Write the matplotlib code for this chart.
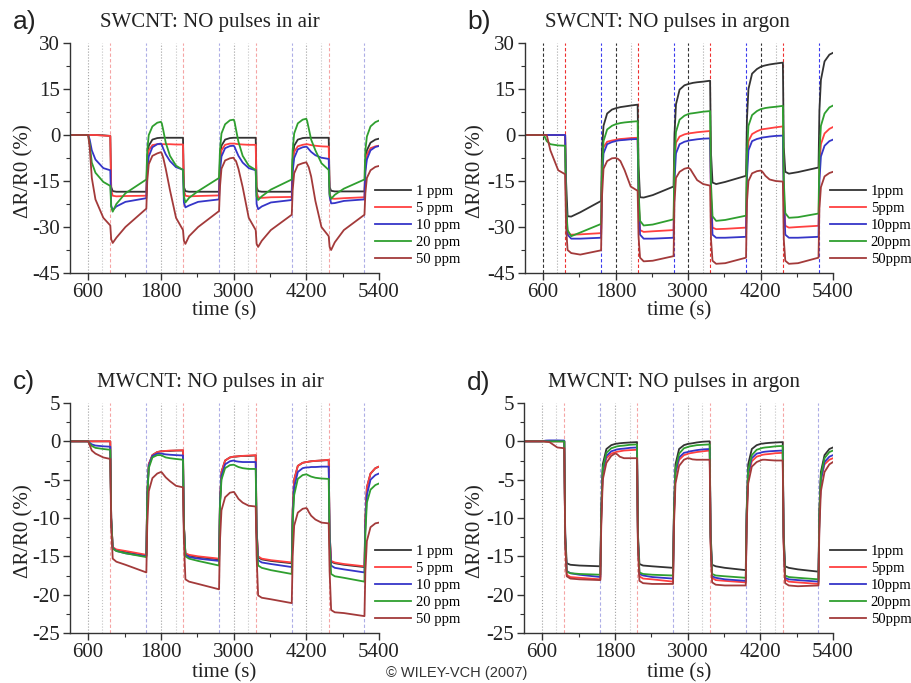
import numpy as np
import matplotlib
matplotlib.use('Agg')
import matplotlib.pyplot as plt
from matplotlib.ticker import MultipleLocator

plt.rcParams['font.family'] = 'Liberation Serif'
plt.rcParams['axes.unicode_minus'] = False

# time knots (s), shared by every curve
T = [300, 600, 625, 660, 720, 850, 965,
     980, 1005, 1065, 1215, 1560,
     1575, 1600, 1660, 1740, 1800, 1815, 1840, 1880, 1950, 2050, 2165,
     2180, 2205, 2265, 2415, 2760,
     2775, 2800, 2860, 2940, 3000, 3015, 3040, 3080, 3150, 3250, 3365,
     3380, 3405, 3465, 3615, 3960,
     3975, 4000, 4060, 4140, 4200, 4215, 4240, 4280, 4350, 4450, 4570,
     4585, 4610, 4670, 4820, 5160,
     5175, 5200, 5260, 5340, 5400]

# NO on / off and other marker times
red_on = [965, 2165, 3365, 4570]
blue_off = [1560, 2760, 3960, 5160]
grey_a = [600, 1800, 3000, 4200]
grey_b = [830, 2050, 3245, 4450]

# ---- a) SWCNT in air
a_1ppm = [0, 0, 0, 0, 0, -0.1, -0.3,
          -17, -18.3, -18.5, -18.5, -18.5,
          -8, -3.5, -1.5, -1.0, -0.9, -0.9, -0.9, -0.9, -0.9, -0.9, -0.9,
          -17, -18.3, -18.5, -18.5, -18.5,
          -8, -3.5, -1.5, -1.0, -0.9, -0.9, -0.9, -0.9, -0.9, -0.9, -0.9,
          -17, -18.3, -18.5, -18.5, -18.5,
          -8, -3.5, -1.5, -1.0, -0.9, -0.9, -0.9, -0.9, -0.9, -0.9, -0.9,
          -17, -18.2, -18.4, -18.4, -18.4,
          -9, -5, -2.5, -1.5, -1.2]
a_5ppm = [0, 0, 0, 0, 0, -0.2, -0.3,
          -18, -19.8, -20, -19.9, -19.8,
          -10, -5, -3.3, -3.0, -3.0, -3.0, -3.0, -3.0, -3.0, -3.1, -3.1,
          -18, -19.8, -20, -19.9, -19.7,
          -10, -5, -3.2, -2.8, -2.8, -2.8, -2.9, -3.0, -3.1, -3.2, -3.2,
          -18.5, -20.3, -20.5, -20.3, -20.2,
          -10, -5.5, -3.7, -3.2, -3.0, -3.0, -3.1, -3.3, -3.5, -3.7, -3.8,
          -19, -20.7, -20.8, -20.6, -20.3,
          -11, -6.5, -4.3, -3.7, -3.5]
a_10ppm = [0, 0, -1.5, -5, -8, -10.8, -11.5,
           -23, -24.5, -23.3, -21.8, -20.6,
           -12, -7, -4, -3, -2.8, -3.2, -4.5, -6.3, -8.5, -10.5, -11.3,
           -22, -23.6, -23, -21.8, -21,
           -12, -7, -4.3, -3.6, -3.5, -3.8, -5, -6.8, -9, -10.8, -11.5,
           -22.5, -24.2, -23.3, -22, -21.2,
           -12, -7.5, -4.7, -4, -3.8, -4.0, -4.6, -5.5, -6.6, -7.4, -7.8,
           -20, -22.3, -22.2, -21.5, -21,
           -12, -8, -5, -3.9, -3.6]
a_20ppm = [0, 0, -3, -9, -12.3, -15.3, -16.6,
           -23.5, -25, -22.5, -19, -14.5,
           -5, 0, 2.8, 4.0, 4.3, 3.8, 1.5, -2.5, -6.8, -10, -11.4,
           -20, -22, -20.5, -18.3, -14,
           -5, 0.5, 3.5, 4.8, 5.0, 4.4, 1.8, -2.2, -6.8, -10, -11.4,
           -20, -21.2, -20, -17.8, -14.5,
           -5, 0.5, 3.8, 5.0, 5.3, 4.5, 2.2, -1.5, -5, -9.2, -11.4,
           -19.5, -20.8, -19.5, -17.5, -14.5,
           -5, -0.5, 2.8, 4.2, 4.7]
a_50ppm = [0, 0, -4, -14, -21, -27, -29.5,
           -34, -35.2, -33.5, -30, -24,
           -15, -9.5, -6.8, -6, -5.6, -6, -7.5, -11, -18, -27, -31,
           -34.5, -35.5, -33, -30, -24.8,
           -17, -11, -8.3, -7.6, -7.4, -8, -8.5, -11, -17, -27, -31,
           -35.5, -36.5, -34.5, -31, -26,
           -18, -12.5, -9.8, -9.2, -8.9, -9.5, -10.5, -13.5, -21.5, -30, -33,
           -36.5, -37.5, -35, -31, -26,
           -19, -14, -11.5, -10.4, -10.1]

# ---- b) SWCNT in argon
b_1ppm = [0, 0, 0, 0, 0, 0, 0,
          -15, -26.5, -26.6, -25.2, -21.5,
          -5, 3, 7, 8.3, 8.7, 8.8, 8.9, 9.1, 9.3, 9.6, 9.9,
          -10, -20.3, -20.4, -19.6, -16.8,
          0, 10, 14.8, 16.2, 16.6, 16.7, 16.8, 17.0, 17.2, 17.4, 17.7,
          -6, -15.5, -16, -15.3, -13.3,
          5, 15, 20, 21.5, 22.2, 22.3, 22.5, 22.7, 23.0, 23.3, 23.6,
          -4, -12, -12.6, -12.1, -10.6,
          8, 18, 24, 26.2, 26.8]
b_5ppm = [0, 0, 0, 0, 0, 0, 0,
          -25, -32.3, -32.5, -32.4, -32,
          -12, -4, -2.2, -1.8, -1.6, -1.5, -1.4, -1.3, -1.2, -1.0, -0.9,
          -20, -31, -31.6, -31.4, -31,
          -10, -2.5, -0.5, 0.2, 0.5, 0.5, 0.6, 0.7, 0.9, 1.1, 1.3,
          -20, -30.2, -30.7, -30.6, -30.2,
          -10, -2, 0.3, 1.2, 1.7, 1.8, 1.9, 2.0, 2.2, 2.5, 2.8,
          -19, -29.6, -30.2, -30, -29.6,
          -10, -3, 0.5, 2.0, 2.6]
b_10ppm = [0, 0, 0, 0, 0, 0, 0,
           -22, -32.5, -33.8, -33.8, -33.5,
           -15, -6, -3, -2.3, -2.0, -1.9, -1.8, -1.7, -1.6, -1.4, -1.3,
           -20, -32.5, -33.8, -33.8, -33.5,
           -15, -6, -3, -2.2, -1.9, -1.8, -1.7, -1.6, -1.4, -1.2, -1.1,
           -20, -32.5, -33.5, -33.5, -33.2,
           -14, -5, -2, -1.3, -1.0, -0.9, -0.8, -0.7, -0.5, -0.3, -0.2,
           -20, -32.5, -33.5, -33.5, -33.2,
           -15, -7, -3.5, -2, -1.5]
b_20ppm = [0, 0, -0.5, -2, -3, -3.4, -3.5,
           -22, -31, -33, -31.8, -29,
           -12, -2, 1.8, 3.0, 3.5, 3.6, 3.7, 3.9, 4.1, 4.3, 4.5,
           -18, -28, -29.5, -29.2, -27.5,
           -8, 1, 5, 6.3, 6.8, 6.9, 7.0, 7.1, 7.3, 7.6, 7.8,
           -16, -26.5, -28, -27.7, -26.3,
           -6, 3, 6.5, 7.8, 8.4, 8.5, 8.6, 8.8, 9.0, 9.2, 9.5,
           -15, -25.5, -27, -26.8, -25.6,
           -6, 3, 7, 9, 9.6]
b_50ppm = [0, 0, 0, 0, -5, -11.5, -12.8,
           -30, -37.5, -38.5, -39, -37.6,
           -20, -11, -8.5, -7.6, -7.5, -7.6, -7.8, -8.5, -11.5, -16.8, -18.2,
           -33, -40, -41.2, -41, -39.5,
           -22, -14, -12, -11, -10.7, -10.8, -11.2, -12.5, -14.7, -16, -16.5,
           -34, -41, -42, -41.8, -40,
           -22, -15, -12.5, -11.8, -11.6, -11.7, -12.2, -13.3, -14.5, -15, -15.2,
           -34, -41, -42, -41.8, -40,
           -24, -17, -13.5, -12.4, -12]

# ---- c) MWCNT in air
c_1ppm = [0, 0, 0, 0, 0, 0, 0,
          -10, -13.9, -14.2, -14.4, -14.9,
          -7, -3, -1.8, -1.4, -1.3, -1.3, -1.3, -1.25, -1.25, -1.2, -1.2,
          -11, -14.7, -14.9, -15.1, -15.4,
          -8, -4, -2.5, -2.1, -2.0, -2.0, -2.0, -1.95, -1.9, -1.9, -1.85,
          -11.5, -15.1, -15.4, -15.6, -15.9,
          -9, -5, -3.2, -2.8, -2.7, -2.7, -2.65, -2.6, -2.55, -2.5, -2.45,
          -12, -15.7, -15.9, -16.1, -16.4,
          -10, -6, -4.2, -3.5, -3.3]
c_5ppm = [0, 0, 0, 0, 0, 0, 0,
          -10, -13.8, -14.1, -14.3, -14.8,
          -7, -3, -1.8, -1.4, -1.3, -1.3, -1.25, -1.25, -1.2, -1.2, -1.15,
          -11, -14.6, -14.8, -15, -15.3,
          -8, -4, -2.5, -2.1, -2.0, -2.0, -1.95, -1.95, -1.9, -1.85, -1.8,
          -11.5, -15, -15.3, -15.5, -15.8,
          -9, -5, -3.2, -2.8, -2.7, -2.7, -2.65, -2.6, -2.55, -2.5, -2.4,
          -12, -15.6, -15.8, -16, -16.3,
          -10, -6, -4.2, -3.5, -3.3]
c_10ppm = [0, 0, -0.2, -0.4, -0.55, -0.65, -0.7,
           -10, -13.9, -14.3, -14.6, -15,
           -7, -3.2, -1.9, -1.6, -1.6, -1.6, -1.65, -1.7, -1.75, -1.8, -1.85,
           -11, -14.8, -15.1, -15.3, -15.6,
           -8, -4.5, -3, -2.6, -2.5, -2.55, -2.6, -2.65, -2.7, -2.7, -2.7,
           -12, -15.5, -15.8, -16, -16.4,
           -10, -6, -4, -3.5, -3.4, -3.4, -3.4, -3.35, -3.35, -3.3, -3.3,
           -12.5, -16.2, -16.5, -16.7, -17.1,
           -11, -7, -5, -4.4, -4.2]
c_20ppm = [0, 0, -0.3, -0.6, -0.85, -1.0, -1.1,
           -10, -14, -14.3, -14.6, -15.1,
           -7.5, -3.5, -2.1, -1.8, -1.8, -1.85, -1.95, -2.1, -2.2, -2.3, -2.4,
           -11, -15, -15.3, -15.6, -16.2,
           -8.5, -5, -3.5, -3.1, -3.05, -3.1, -3.2, -3.35, -3.5, -3.6, -3.6,
           -12.5, -16.2, -16.5, -16.8, -17.3,
           -10.5, -7, -4.9, -4.4, -4.3, -4.35, -4.45, -4.6, -4.75, -4.85, -4.9,
           -13.5, -17.3, -17.6, -17.8, -18.3,
           -12, -8, -6.3, -5.7, -5.5]
c_50ppm = [0, 0, -0.5, -1.2, -1.6, -2.1, -2.3,
           -11, -15.3, -15.7, -16.1, -17.1,
           -11, -6.5, -4.8, -4.2, -4.0, -4.05, -4.3, -4.7, -5.2, -5.8, -6.0,
           -13, -18, -18.3, -18.6, -19.3,
           -13, -9, -7.3, -6.7, -6.6, -6.7, -7.0, -7.5, -8.0, -8.4, -8.5,
           -15, -20.1, -20.4, -20.6, -21.1,
           -15, -11, -9.3, -8.8, -8.7, -8.8, -9.2, -9.7, -10.2, -10.6, -10.7,
           -17, -22, -22.3, -22.4, -22.8,
           -17, -13, -11.2, -10.7, -10.6]

# ---- d) MWCNT in argon
d_1ppm = [0, 0, 0, 0, 0, 0, 0,
          -12, -15.9, -16.1, -16.2, -16.3,
          -9, -3, -1.0, -0.5, -0.35, -0.3, -0.3, -0.25, -0.2, -0.15, -0.1,
          -12, -16, -16.2, -16.3, -16.5,
          -9, -3, -1.0, -0.5, -0.35, -0.3, -0.3, -0.25, -0.15, -0.05, 0,
          -12, -16.1, -16.3, -16.5, -16.8,
          -9, -3, -1.0, -0.5, -0.35, -0.3, -0.3, -0.25, -0.2, -0.15, -0.1,
          -12, -16.3, -16.5, -16.7, -17,
          -9, -4, -1.8, -1.0, -0.8]
d_5ppm = [0, 0, 0, 0, 0, 0, 0,
          -13, -17.4, -17.7, -17.8, -18,
          -10, -4, -2.2, -1.6, -1.45, -1.4, -1.35, -1.3, -1.2, -1.15, -1.1,
          -13, -17.6, -17.9, -18, -18.3,
          -10, -4.2, -2.4, -1.8, -1.65, -1.6, -1.55, -1.5, -1.4, -1.3, -1.2,
          -13, -17.8, -18.1, -18.2, -18.4,
          -10, -4.5, -2.6, -2.0, -1.85, -1.8, -1.75, -1.7, -1.65, -1.55, -1.5,
          -13, -18, -18.3, -18.4, -18.6,
          -10, -5, -3, -2.4, -2.2]
d_10ppm = [0, 0, 0.05, 0.1, 0.12, 0.12, 0.1,
           -12.5, -16.9, -17.2, -17.4, -17.7,
           -9.5, -3.8, -1.9, -1.3, -1.15, -1.1, -1.05, -1.0, -0.95, -0.85, -0.8,
           -12.5, -17.3, -17.5, -17.7, -17.9,
           -9.5, -4, -2.1, -1.5, -1.4, -1.35, -1.3, -1.25, -1.15, -1.05, -1.0,
           -12.5, -17.6, -17.8, -18, -18.2,
           -9.5, -4.2, -2.2, -1.6, -1.5, -1.45, -1.4, -1.35, -1.3, -1.25, -1.2,
           -12.5, -17.8, -18, -18.1, -18.3,
           -10, -5, -2.7, -2.0, -1.8]
d_20ppm = [0, 0, 0, 0, 0, 0, 0,
           -12.5, -17, -17.2, -17.3, -17.4,
           -9.3, -3.5, -1.5, -0.9, -0.75, -0.7, -0.65, -0.6, -0.55, -0.45, -0.4,
           -12.5, -17.1, -17.3, -17.4, -17.5,
           -9.3, -3.6, -1.6, -0.9, -0.75, -0.7, -0.65, -0.6, -0.5, -0.45, -0.4,
           -12.5, -17.3, -17.5, -17.6, -17.8,
           -9.3, -3.8, -1.8, -1.1, -0.95, -0.9, -0.85, -0.8, -0.75, -0.65, -0.6,
           -12.5, -17.5, -17.7, -17.8, -18,
           -9.5, -4.5, -2.2, -1.4, -1.2]
d_50ppm = [0, 0, 0, -0.05, -0.1, -0.8, -0.9,
           -13, -17.6, -17.9, -18.0, -18.1,
           -11, -5, -2.8, -1.9, -1.6, -1.6, -1.7, -2.0, -2.2, -2.2, -2.2,
           -13.5, -18.2, -18.5, -18.6, -18.6,
           -11, -5.5, -3.2, -2.4, -2.2, -2.2, -2.25, -2.35, -2.4, -2.4, -2.4,
           -13.5, -18.4, -18.7, -18.8, -18.8,
           -11, -5.5, -3.3, -2.7, -2.5, -2.45, -2.4, -2.4, -2.45, -2.5, -2.5,
           -13.5, -18.5, -18.8, -18.9, -18.8,
           -11.5, -6.5, -4, -3.0, -2.7]

colors = ['#333333', '#ff4040', '#3535c8', '#2f9f2f', '#a33a3a']
labels_sp = ['1 ppm', '5 ppm', '10 ppm', '20 ppm', '50 ppm']
labels_nosp = ['1ppm', '5ppm', '10ppm', '20ppm', '50ppm']

W, H = 911, 683
fig = plt.figure(figsize=(W / 100, H / 100), dpi=100)


def add_ax(l, t, r, b):
    return fig.add_axes([l / W, 1 - b / H, (r - l) / W, (b - t) / H])


panels = [
    dict(box=(70, 43, 379, 273), series=[a_1ppm, a_5ppm, a_10ppm, a_20ppm, a_50ppm],
         labels=labels_sp, ylim=(-45, 30), step=15, strong=False,
         letter='a)', title='SWCNT: NO pulses in air', tx=210, ty=22, lx=13, leg=(375, 185),
         ylab=(24, 171), xlab=(224, 311)),
    dict(box=(525, 43, 833, 273), series=[b_1ppm, b_5ppm, b_10ppm, b_20ppm, b_50ppm],
         labels=labels_nosp, ylim=(-45, 30), step=15, strong=True,
         letter='b)', title='SWCNT: NO pulses in argon', tx=667, ty=22, lx=467, leg=(830, 185),
         ylab=(476, 171), xlab=(679, 311)),
    dict(box=(70, 403, 379, 633), series=[c_1ppm, c_5ppm, c_10ppm, c_20ppm, c_50ppm],
         labels=labels_sp, ylim=(-25, 5), step=5, strong=False,
         letter='c)', title='MWCNT: NO pulses in air', tx=210, ty=382, lx=13, leg=(375, 545),
         ylab=(24, 531), xlab=(224, 673)),
    dict(box=(524, 403, 833, 633), series=[d_1ppm, d_5ppm, d_10ppm, d_20ppm, d_50ppm],
         labels=labels_nosp, ylim=(-25, 5), step=5, strong=False,
         letter='d)', title='MWCNT: NO pulses in argon', tx=674, ty=383, lx=467, leg=(830, 545),
         ylab=(476, 531), xlab=(679, 673)),
]

for p in panels:
    ax = add_ax(*p['box'])
    if p['strong']:
        sty = [('#333333', (0, (3, 2)), grey_a), ('#aaaaaa', ':', grey_b),
               ('#ee3030', (0, (3, 2)), red_on), ('#3a3aee', (0, (3, 2)), blue_off)]
    else:
        sty = [('#a0a0a0', ':', grey_a), ('#c4c4c4', ':', grey_b),
               ('#f5a5a5', (0, (3, 2)), red_on), ('#aeaee6', (0, (3, 2)), blue_off)]
    for col, ls, xs in sty:
        for x in xs:
            ax.axvline(x, color=col, ls=ls, lw=0.8, zorder=1)

    for vals, col, lab in zip(p['series'], colors, p['labels']):
        ax.plot(T, vals, color=col, lw=1.3, label=lab, zorder=2)

    ax.set_xlim(300, 5400)
    ax.set_ylim(*p['ylim'])
    ax.set_xticks([600, 1800, 3000, 4200, 5400])
    ax.xaxis.set_minor_locator(MultipleLocator(600))
    ax.yaxis.set_major_locator(MultipleLocator(p['step']))
    ax.yaxis.set_minor_locator(MultipleLocator(p['step'] / 2))
    for s in ['top', 'right']:
        ax.spines[s].set_visible(False)
    for s in ['left', 'bottom']:
        ax.spines[s].set_color('#333333')
        ax.spines[s].set_linewidth(1.0)
    ax.tick_params(which='major', direction='out', length=5, width=1,
                   labelsize=15, pad=2, colors='#333333', labelcolor='#222222')
    ax.tick_params(which='minor', direction='out', length=3, width=0.8, colors='#333333')

    lx, ly = p['leg']
    ax.legend(loc='upper left', bbox_to_anchor=(lx / W, 1 - ly / H),
              bbox_transform=fig.transFigure, frameon=False, fontsize=10.5,
              handlelength=2.5, handletextpad=0.3, labelspacing=0.25,
              borderpad=0, borderaxespad=0)

    fig.text(p['tx'] / W, 1 - p['ty'] / H, p['title'], fontsize=15,
             ha='center', va='center', color='#222222')
    fig.text(p['lx'] / W, 1 - p['ty'] / H, p['letter'], fontsize=19,
             family='Liberation Sans', ha='left', va='center', color='#222222')
    fig.text(p['ylab'][0] / W, 1 - p['ylab'][1] / H, 'ΔR/R0 (%)', fontsize=15,
             rotation=90, ha='center', va='center', color='#222222')
    fig.text(p['xlab'][0] / W, 1 - p['xlab'][1] / H, 'time (s)', fontsize=15,
             ha='center', va='center', color='#222222')

fig.text(457 / W, 1 - 673 / H, '© WILEY-VCH (2007)', fontsize=10.5,
         family='Liberation Sans', ha='center', va='center', color='#333333')

fig.savefig('out.png', dpi=100)
